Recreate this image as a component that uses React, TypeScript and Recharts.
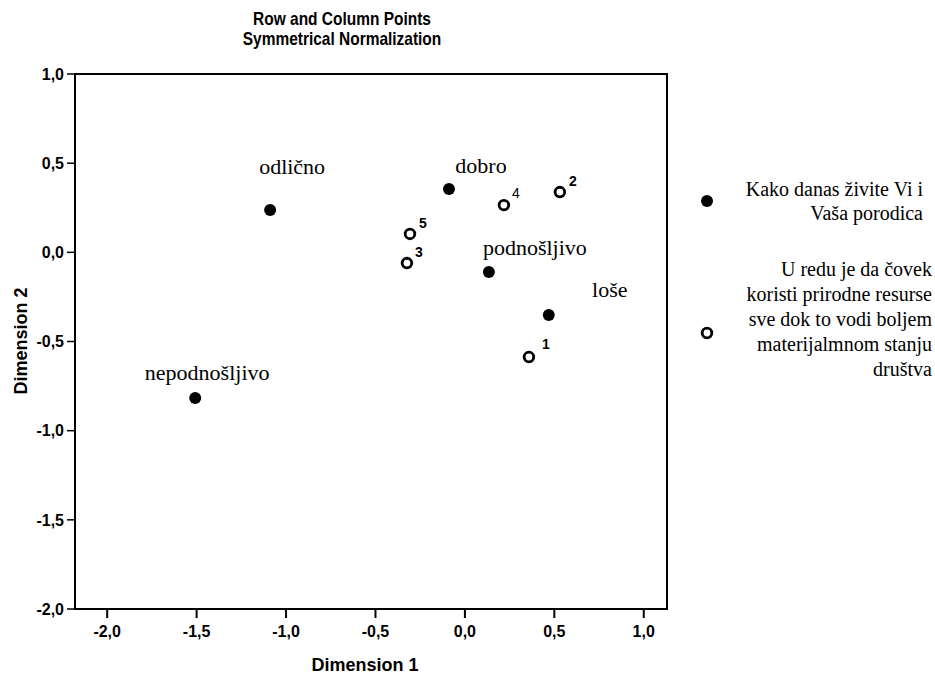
import React from "react";
import {
  ScatterChart,
  Scatter,
  XAxis,
  YAxis,
  ReferenceArea,
} from "recharts";

// Row points: "Kako danas živite Vi i Vaša porodica"
const rowNames = ["odlično", "dobro", "podnošljivo", "loše", "nepodnošljivo"];
const rowDim1 = [-1.089, -0.089, 0.134, 0.469, -1.508];
const rowDim2 = [0.237, 0.355, -0.11, -0.352, -0.817];

// Column points: agreement scale 1..5
const colNames = ["1", "2", "3", "4", "5"];
const colDim1 = [0.358, 0.531, -0.324, 0.218, -0.307];
const colDim2 = [-0.587, 0.338, -0.06, 0.265, 0.103];

const xTicks = [-2, -1.5, -1, -0.5, 0, 0.5, 1];
const yTicks = [-2, -1.5, -1, -0.5, 0, 0.5, 1];

const legendRow = ["Kako danas živite Vi i", "Vaša porodica"];
const legendCol = [
  "U redu je da čovek",
  "koristi prirodne resurse",
  "sve dok to vodi boljem",
  "materijalmnom stanju",
  "društva",
];

const rowPoints = rowNames.map((name, i) => ({ name, x: rowDim1[i], y: rowDim2[i] }));
const colPoints = colNames.map((name, i) => ({ name, x: colDim1[i], y: colDim2[i] }));

// label placement around each marker (px), SPSS puts them a bit up/right
const rowLabelPos: Record<string, [number, number]> = {
  "odlično": [22, -36],
  dobro: [32, -16],
  "podnošljivo": [46, -17],
  "loše": [61, -18],
  "nepodnošljivo": [12, -18],
};
const colLabelPos: Record<string, [number, number]> = {
  "1": [17, -8],
  "2": [13, -6],
  "3": [12, -6],
  "4": [12, -7],
  "5": [13, -6],
};

const SANS = "'Liberation Sans', Arial, sans-serif";
const SERIF = "'Liberation Serif', 'Times New Roman', serif";

const fmt = (v: number) => v.toFixed(1).replace(".", ",");

function RowDot(props: any) {
  const { cx, cy, payload } = props;
  const [dx, dy] = rowLabelPos[payload.name] ?? [0, -16];
  return (
    <g>
      <circle cx={cx} cy={cy} r={6} fill="#000" />
      <text x={cx + dx} y={cy + dy} textAnchor="middle" fontFamily={SERIF} fontSize={22} fill="#000">
        {payload.name}
      </text>
    </g>
  );
}

function ColDot(props: any) {
  const { cx, cy, payload } = props;
  const [dx, dy] = colLabelPos[payload.name] ?? [12, -6];
  return (
    <g>
      <circle cx={cx} cy={cy} r={4.8} fill="#fff" stroke="#000" strokeWidth={2.8} />
      <text
        x={cx + dx}
        y={cy + dy}
        textAnchor="middle"
        fontFamily={SANS}
        fontSize={14}
        fontWeight={payload.name === "4" ? "normal" : "bold"}
        fill="#000"
      >
        {payload.name}
      </text>
    </g>
  );
}

export default function App() {
  const tickStyle = { fill: "#000", fontSize: 16, fontWeight: "bold", fontFamily: SANS };
  return (
    <div style={{ position: "absolute", left: 0, top: 0, width: 935, height: 678, background: "#fff" }}>
      <ScatterChart width={935} height={678} margin={{ top: 74, right: 268, bottom: 0, left: 0 }}>
        <XAxis
          type="number"
          dataKey="x"
          domain={[-2.18, 1.13]}
          ticks={xTicks}
          tickFormatter={fmt}
          axisLine={false}
          tickLine={{ stroke: "#000", strokeWidth: 2 }}
          tickSize={9}
          tickMargin={8}
          tick={tickStyle}
          height={69}
          allowDataOverflow
        />
        <YAxis
          type="number"
          dataKey="y"
          domain={[-2, 1]}
          ticks={yTicks}
          tickFormatter={fmt}
          axisLine={false}
          tickLine={{ stroke: "#000", strokeWidth: 1.5 }}
          tickSize={8}
          tickMargin={3}
          tick={tickStyle}
          width={75}
          allowDataOverflow
        />
        <ReferenceArea x1={-2.18} x2={1.13} y1={-2} y2={1} fill="none" fillOpacity={0} stroke="#000" strokeWidth={2} />
        <Scatter data={rowPoints} shape={<RowDot />} isAnimationActive={false} />
        <Scatter data={colPoints} shape={<ColDot />} isAnimationActive={false} />
      </ScatterChart>

      {/* title, axis titles and legend drawn on top */}
      <svg width={935} height={678} style={{ position: "absolute", left: 0, top: 0, pointerEvents: "none" }}>
        <g fontFamily={SANS} fontWeight="bold" fill="#000" textAnchor="middle">
          <g transform="translate(342,0) scale(0.86,1)">
            <text x={0} y={25} fontSize={18}>Row and Column Points</text>
            <text x={0} y={45} fontSize={18}>Symmetrical Normalization</text>
          </g>
          <text x={365} y={671} fontSize={18}>Dimension 1</text>
          <text x={0} y={0} fontSize={18} transform="translate(27,341) rotate(-90)">Dimension 2</text>
        </g>
        <g fontFamily={SERIF} fontSize={20} fill="#000" textAnchor="end">
          <circle cx={707} cy={201} r={6} fill="#000" />
          {legendRow.map((line, i) => (
            <text key={line} x={923} y={196 + i * 24}>{line}</text>
          ))}
          <circle cx={707} cy={333} r={4.8} fill="#fff" stroke="#000" strokeWidth={2.8} />
          {legendCol.map((line, i) => (
            <text key={line} x={932} y={276 + i * 25}>{line}</text>
          ))}
        </g>
      </svg>
    </div>
  );
}
